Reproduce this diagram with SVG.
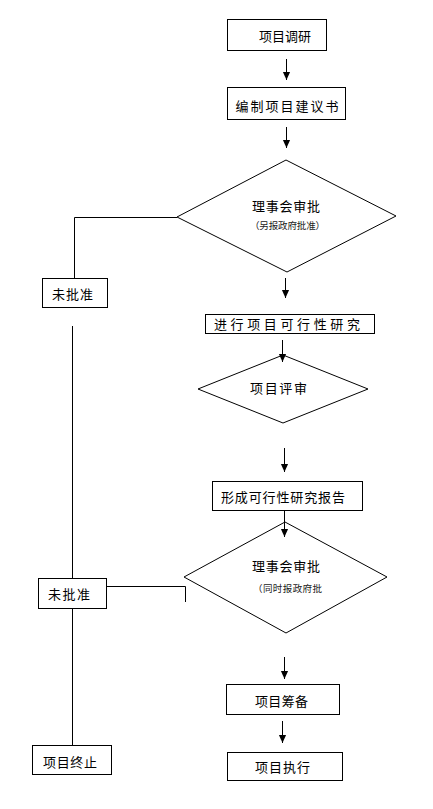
<svg xmlns="http://www.w3.org/2000/svg" width="433" height="809" viewBox="0 0 433 809">
<style>
.n{fill:#fff;stroke:#000;stroke-width:1}
.t{font-family:"Noto Sans CJK SC","Liberation Sans",sans-serif;font-size:13px;fill:#000}
.s{font-family:"Noto Sans CJK SC","Liberation Sans",sans-serif;font-size:9.5px;fill:#222}
.c{fill:none;stroke:#000;stroke-width:1}
</style>
<defs>
<marker id="ah" markerWidth="8" markerHeight="9" refX="4" refY="9" orient="auto-start-reverse" markerUnits="userSpaceOnUse" viewBox="0 0 8 9">
<path d="M0,0 L8,0 L4,9 Z" fill="#000" transform="rotate(-90 4 4.5)"/>
</marker>
<marker id="arr" markerWidth="8" markerHeight="9" refX="9" refY="4" orient="auto" markerUnits="userSpaceOnUse" viewBox="0 0 9 8">
<path d="M0,0 L9,4 L0,8 Z" fill="#000"/>
</marker>
</defs>
<rect width="433" height="809" fill="#fff"/>
<g id="connectors">
<line class="c" x1="286.5" y1="59" x2="286.5" y2="80" marker-end="url(#arr)"/>
<line class="c" x1="286.5" y1="127" x2="286.5" y2="148" marker-end="url(#arr)"/>
<polyline class="c" points="177,217.5 74.5,217.5 74.5,278"/>
<line class="c" x1="285.5" y1="278" x2="285.5" y2="298" marker-end="url(#arr)"/>
<line class="c" x1="72.5" y1="326" x2="72.5" y2="578"/>
<line class="c" x1="72.5" y1="608" x2="72.5" y2="745"/>
<polyline class="c" points="106,586.5 185.5,586.5 185.5,602"/>
<line class="c" x1="284.5" y1="448" x2="284.5" y2="472" marker-end="url(#arr)"/>
<line class="c" x1="284.5" y1="657" x2="284.5" y2="679" marker-end="url(#arr)"/>
<line class="c" x1="282.5" y1="721" x2="282.5" y2="743" marker-end="url(#arr)"/>
</g>
<g id="n1"><rect class="n" x="227.5" y="19.5" width="99" height="31"/><text class="t" x="285" y="41" text-anchor="middle" textLength="52">项目调研</text></g>
<g id="n2"><rect class="n" x="227.5" y="87.5" width="118" height="32"/><text class="t" x="287" y="111" text-anchor="middle" textLength="103">编制项目建议书</text></g>
<g id="d1"><polygon class="n" points="286,160 396,216 287,272 177,217"/><text class="t" x="286" y="211" text-anchor="middle" textLength="68">理事会审批</text><text class="s" x="287.5" y="229" text-anchor="middle" textLength="75">（另报政府批准）</text></g>
<g id="r1"><rect class="n" x="42.5" y="278.5" width="65" height="29"/><text class="t" x="72.5" y="299" text-anchor="middle" textLength="41">未批准</text></g>
<g id="n3"><rect class="n" x="205.5" y="314.5" width="169" height="19"/><text class="t" x="214" y="329" textLength="146">进行项目可行性研究</text></g>
<g id="d2"><polygon class="n" points="283,355 368,389 283,423 198,389"/><text class="t" x="278.5" y="393" text-anchor="middle" textLength="57">项目评审</text></g>
<line class="c" x1="282.5" y1="340" x2="282.5" y2="362" marker-end="url(#arr)"/>
<g id="n4"><rect class="n" x="212.5" y="481.5" width="150" height="29"/><text class="t" x="283" y="502" text-anchor="middle" textLength="124">形成可行性研究报告</text></g>
<g id="d3"><polygon class="n" points="285,522 387,577 286,633 184,577"/><text class="t" x="286" y="571" text-anchor="middle" textLength="68">理事会审批</text><text class="s" x="253" y="592" textLength="69">（同时报政府批</text></g>
<line class="c" x1="284.5" y1="510" x2="284.5" y2="537" marker-end="url(#arr)"/>
<g id="r2"><rect class="n" x="38.5" y="578.5" width="68" height="30"/><text class="t" x="69" y="599" text-anchor="middle" textLength="42">未批准</text></g>
<g id="n5"><rect class="n" x="226.5" y="684.5" width="113" height="30"/><text class="t" x="281.5" y="706" text-anchor="middle" textLength="53">项目筹备</text></g>
<g id="n6"><rect class="n" x="227.5" y="752.5" width="115" height="28"/><text class="t" x="282.5" y="772" text-anchor="middle" textLength="55">项目执行</text></g>
<g id="n7"><rect class="n" x="32.5" y="745.5" width="79" height="29"/><text class="t" x="70" y="767" text-anchor="middle" textLength="54">项目终止</text></g>
</svg>
